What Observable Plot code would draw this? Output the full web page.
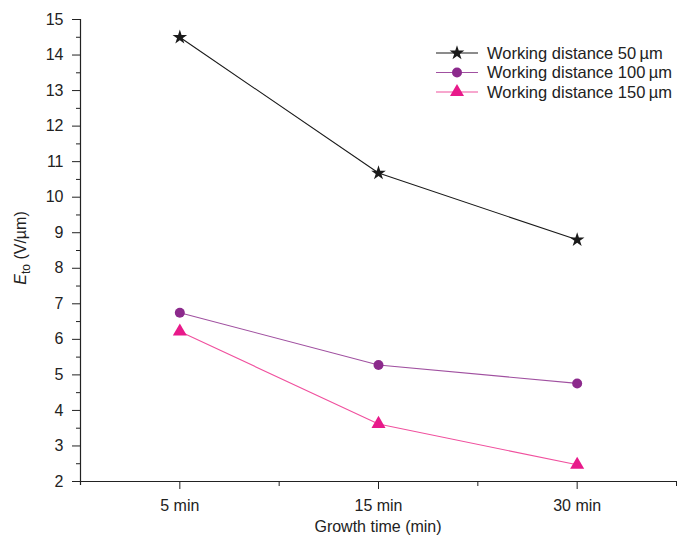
<!DOCTYPE html>
<html>
<head>
<meta charset="utf-8">
<script src="https://cdn.jsdelivr.net/npm/d3@7"></script>
<script src="https://cdn.jsdelivr.net/npm/@observablehq/plot@0.6"></script>
<style>
  body { margin: 0; background: #fff; }
  #chart { position: relative; width: 680px; height: 539px; }
  svg { font-family: "Liberation Sans", Arial, sans-serif; }
</style>
</head>
<body>
<div id="chart"></div>
<script>
// Categories (growth time) and their slot positions on the axis
const times = ["5 min", "15 min", "30 min"];
const slots = [1, 3, 5];

// Series
const seriesNames = ["Working distance 50\u2009µm", "Working distance 100\u2009µm", "Working distance 150\u2009µm"];
const wd50  = [14.5, 10.68, 8.8];
const wd100 = [6.75, 5.28, 4.76];
const wd150 = [6.22, 3.62, 2.47];

const yMajorTicks = d3.range(2, 16, 1);
const yMinorTicks = d3.range(2.5, 15, 1);
const xMajorTicks = slots;
const xMinorTicks = [2, 4, 6];

const lineColors   = ["#1a1a1a", "#a050a0", "#f0509e"];
const markerColors = ["#1a1a1a", "#8c2a8c", "#e8198a"];
const symbols      = ["star", "circle", "triangle"];
const sizes        = [4.6, 5, 5.2];

const allValues = [wd50, wd100, wd150];
const rows = [];
allValues.forEach((vals, s) => vals.forEach((v, i) => rows.push({series: seriesNames[s], s, x: slots[i], time: times[i], y: v})));

const marks = [
  Plot.axisY({ticks: yMajorTicks, tickSize: 8, tickPadding: 9, fontSize: 16, label: null, stroke: "#222", color: "#222"}),
  Plot.axisY({ticks: yMinorTicks, tickSize: 4, tickFormat: () => "", label: null, stroke: "#222"}),
  Plot.axisX({ticks: xMajorTicks, tickSize: 8, tickPadding: 10, fontSize: 16, tickFormat: d => times[slots.indexOf(d)], label: null, stroke: "#222", color: "#222"}),
  Plot.axisX({ticks: xMinorTicks, tickSize: 5, tickFormat: () => "", label: null, stroke: "#222"}),
  Plot.ruleY([2], {stroke: "#222", strokeWidth: 1.2}),
  Plot.ruleX([0], {stroke: "#222", strokeWidth: 1.2, insetBottom: -4})
];
seriesNames.forEach((name, s) => {
  const d = rows.filter(r => r.s === s);
  marks.push(Plot.line(d, {x: "x", y: "y", stroke: lineColors[s], strokeWidth: 1.1}));
  marks.push(Plot.dot(d, {x: "x", y: "y", symbol: () => symbols[s], fill: markerColors[s], stroke: "none", r: sizes[s]}));
});

const chart = Plot.plot({
  width: 680,
  height: 539,
  marginLeft: 80,
  marginRight: 4,
  marginTop: 19,
  marginBottom: 58,
  x: {type: "linear", domain: [0, 6]},
  y: {type: "linear", domain: [2, 15]},
  style: {fontFamily: "'Liberation Sans', Arial, sans-serif", fontSize: "16px", color: "#222"},
  marks
});
document.getElementById("chart").appendChild(chart);

// Axis titles and legend
const svg = d3.select(chart);
const ff = "'Liberation Sans', Arial, sans-serif";
svg.append("text")
  .attr("x", 378).attr("y", 532)
  .attr("text-anchor", "middle")
  .attr("font-family", ff).attr("font-size", 16).attr("fill", "#222")
  .text("Growth time (min)");

const yl = svg.append("text")
  .attr("transform", "translate(26,248) rotate(-90)")
  .attr("text-anchor", "middle")
  .attr("font-family", ff).attr("font-size", 16).attr("fill", "#222");
yl.append("tspan").attr("font-style", "italic").text("E");
yl.append("tspan").attr("font-size", 12).attr("dy", 4).text("to");
yl.append("tspan").attr("dy", -4).text(" (V/µm)");

const lg = svg.append("g");
const sym = {star: d3.symbolStar, circle: d3.symbolCircle, triangle: d3.symbolTriangle};
seriesNames.forEach((name, s) => {
  const y = 53 + s * 19.5;
  lg.append("line").attr("x1", 436).attr("x2", 478).attr("y1", y).attr("y2", y)
    .attr("stroke", lineColors[s]).attr("stroke-width", 1.2);
  const area = Math.PI * sizes[s] * sizes[s];
  lg.append("path").attr("d", d3.symbol(sym[symbols[s]], area)())
    .attr("transform", `translate(457,${y})`).attr("fill", markerColors[s]);
  lg.append("text").attr("x", 487).attr("y", y).attr("dy", "0.35em")
    .attr("text-anchor", "start")
    .attr("font-family", ff).attr("font-size", 16.5).attr("fill", "#222").text(name);
});
</script>
</body>
</html>
